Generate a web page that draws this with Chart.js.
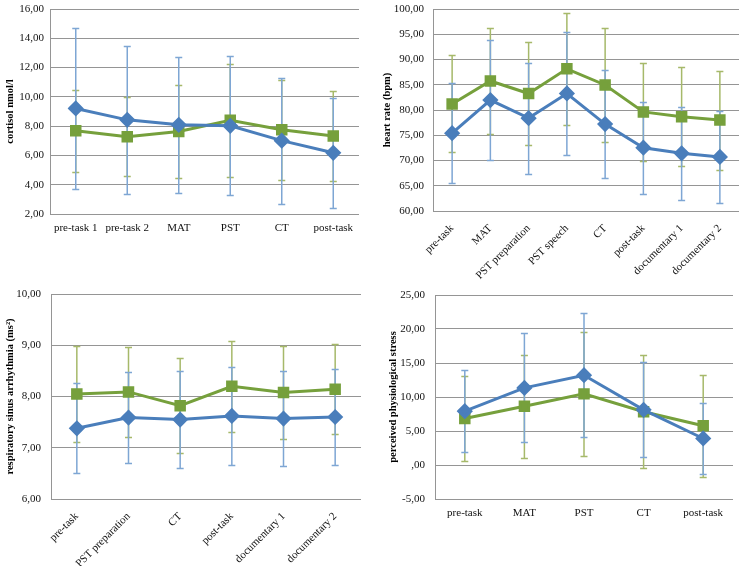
<!DOCTYPE html>
<html>
<head>
<meta charset="utf-8">
<script src="https://cdn.jsdelivr.net/npm/chart.js@4"></script>
<style>
  html, body { margin: 0; padding: 0; background: #fff; }
  body { width: 748px; height: 566px; position: relative; overflow: hidden; }
  .panel { position: absolute; width: 374px; height: 283px; }
</style>
</head>
<body>
<div class="panel" style="left:0;top:0"><canvas id="cortisol" width="374" height="283"></canvas></div>
<div class="panel" style="left:374px;top:0"><canvas id="heartRate" width="374" height="283"></canvas></div>
<div class="panel" style="left:0;top:283px"><canvas id="rsa" width="374" height="283"></canvas></div>
<div class="panel" style="left:374px;top:283px"><canvas id="stress" width="374" height="283"></canvas></div>

<script>
// --- Data (means and SD) ---
const cortCats    = ["pre-task 1", "pre-task 2", "MAT", "PST", "CT", "post-task"];
const cortBlue    = [9.21, 8.43, 8.09, 8.02, 7.01, 6.18];
const cortBlueSd  = [5.50, 5.05, 4.64, 4.75, 4.30, 3.75];
const cortGreen   = [7.69, 7.28, 7.64, 8.40, 7.75, 7.33];
const cortGreenSd = [2.80, 2.70, 3.17, 3.85, 3.40, 3.10];
const cortTicks   = ["2,00", "4,00", "6,00", "8,00", "10,00", "12,00", "14,00", "16,00"];

const hrCats    = ["pre-task", "MAT", "PST preparation", "PST speech", "CT", "post-task", "documentary 1", "documentary 2"];
const hrBlue    = [75.40, 81.97, 78.39, 83.27, 77.21, 72.53, 71.42, 70.70];
const hrBlueSd  = [9.95, 11.90, 11.00, 12.20, 10.70, 9.15, 9.20, 9.15];
const hrGreen   = [81.20, 85.74, 83.27, 88.15, 84.96, 79.62, 78.65, 78.00];
const hrGreenSd = [9.60, 10.40, 10.15, 11.10, 11.30, 9.70, 9.80, 9.80];
const hrTicks   = ["60,00", "65,00", "70,00", "75,00", "80,00", "85,00", "90,00", "95,00", "100,00"];

const rsaCats    = ["pre-task", "PST preparation", "CT", "post-task", "documentary 1", "documentary 2"];
const rsaBlue    = [7.38, 7.59, 7.55, 7.62, 7.57, 7.60];
const rsaBlueSd  = [0.88, 0.88, 0.95, 0.95, 0.93, 0.93];
const rsaGreen   = [8.05, 8.09, 7.82, 8.20, 8.08, 8.14];
const rsaGreenSd = [0.93, 0.88, 0.93, 0.89, 0.90, 0.88];
const rsaTicks   = ["6,00", "7,00", "8,00", "9,00", "10,00"];

const ppsCats    = ["pre-task", "MAT", "PST", "CT", "post-task"];
const ppsBlue    = [7.92, 11.34, 13.20, 8.11, 3.90];
const ppsBlueSd  = [6.05, 8.00, 9.08, 6.98, 5.20];
const ppsGreen   = [6.84, 8.65, 10.46, 7.84, 5.76];
const ppsGreenSd = [6.20, 7.60, 9.10, 8.30, 7.52];
const ppsTicks   = ["-5,00", ",00", "5,00", "10,00", "15,00", "20,00", "25,00"];

// --- Colours ---
const BLUE = "#4a7ebb";
const GREEN = "#76a03c";
const BLUE_ERR = "#7ea6d4";
const GREEN_ERR = "#a6b96a";
const GRID = "#959595";
const SERIF = "'Liberation Serif', 'Times New Roman', serif";

// --- Error bar plugin: draws mean ± SD with caps, using the y scale ---
const errorBars = {
  id: "errorBars",
  beforeDatasetsDraw(chart) {
    const { ctx } = chart;
    const y = chart.scales.y;
    [1, 0].forEach(i => {
      const ds = chart.data.datasets[i];
      const meta = chart.getDatasetMeta(i);
      ctx.save();
      ctx.strokeStyle = ds.errColor;
      ctx.lineWidth = 1.5;
      meta.data.forEach((pt, j) => {
        const top = Math.round(y.getPixelForValue(ds.data[j] + ds.sd[j])) + 0.5;
        const bot = Math.round(y.getPixelForValue(ds.data[j] - ds.sd[j])) + 0.5;
        const x = pt.x;
        ctx.beginPath();
        ctx.moveTo(x, top); ctx.lineTo(x, bot);
        ctx.moveTo(x - 3.5, top); ctx.lineTo(x + 3.5, top);
        ctx.moveTo(x - 3.5, bot); ctx.lineTo(x + 3.5, bot);
        ctx.stroke();
      });
      ctx.restore();
    });
  }
};

// --- Panel builder ---
function makePanel(id, cfg) {
  const ctx = document.getElementById(id).getContext("2d");
  return new Chart(ctx, {
    type: "line",
    data: {
      labels: cfg.cats,
      datasets: [
        {
          data: cfg.blue, sd: cfg.blueSd, errColor: BLUE_ERR,
          borderColor: BLUE, backgroundColor: BLUE, borderWidth: 3,
          pointStyle: "rectRot", pointRadius: 6, pointHoverRadius: 6,
          tension: 0,
        },
        {
          data: cfg.green, sd: cfg.greenSd, errColor: GREEN_ERR,
          borderColor: GREEN, backgroundColor: GREEN, borderWidth: 3,
          pointStyle: "rect", pointRadius: 6, pointHoverRadius: 6,
          tension: 0,
        },
      ],
    },
    options: {
      responsive: false,
      animation: false,
      layout: { padding: { top: cfg.padTop, right: cfg.padRight, left: 0, bottom: 0 } },
      plugins: { legend: { display: false }, tooltip: { enabled: false } },
      scales: {
        x: {
          offset: true,
          grid: { display: false, drawTicks: false },
          border: { display: false },
          ticks: {
            autoSkip: false,
            color: "#111",
            font: { family: SERIF, size: 11 },
            maxRotation: cfg.rotate, minRotation: cfg.rotate,
            padding: cfg.rotate ? 11 : 8,
          },
          afterFit: s => {
            s.height = cfg.xHeight;
            s.paddingLeft = 0; s.paddingRight = 0;
          },
        },
        y: {
          min: cfg.min, max: cfg.max,
          grid: { color: GRID, lineWidth: 1, drawTicks: false },
          border: { display: true, color: GRID, width: 1 },
          ticks: {
            stepSize: cfg.step,
            color: "#111",
            padding: cfg.tickPad,
            font: { family: SERIF, size: 11 },
            callback: (v, i) => cfg.ticks[i],
          },
          title: {
            display: true,
            text: cfg.title,
            color: "#000",
            font: { family: SERIF, size: 10.5, weight: "bold" },
            padding: { top: cfg.titlePad, bottom: 0 },
          },
          afterFit: s => {
            s.width = cfg.yWidth;
            s.paddingTop = 0; s.paddingBottom = 0;
          },
        },
      },
    },
    plugins: [errorBars],
  });
}

makePanel("cortisol", {
  cats: cortCats, blue: cortBlue, blueSd: cortBlueSd, green: cortGreen, greenSd: cortGreenSd,
  ticks: cortTicks, min: 2, max: 16, step: 2, title: "cortisol nmol/l",
  padTop: 5, padRight: 15, yWidth: 50, xHeight: 69, rotate: 0, tickPad: 6, titlePad: 4,
});

makePanel("heartRate", {
  cats: hrCats, blue: hrBlue, blueSd: hrBlueSd, green: hrGreen, greenSd: hrGreenSd,
  ticks: hrTicks, min: 60, max: 100, step: 5, title: "heart rate (bpm)",
  padTop: 6, padRight: 5, yWidth: 59, xHeight: 72, rotate: 45, tickPad: 9, titlePad: 7,
});

makePanel("rsa", {
  cats: rsaCats, blue: rsaBlue, blueSd: rsaBlueSd, green: rsaGreen, greenSd: rsaGreenSd,
  ticks: rsaTicks, min: 6, max: 10, step: 1, title: "respiratory sinus arrhythmia (ms²)",
  padTop: 11, padRight: 13, yWidth: 51, xHeight: 67, rotate: 45, tickPad: 10, titlePad: 4,
});

makePanel("stress", {
  cats: ppsCats, blue: ppsBlue, blueSd: ppsBlueSd, green: ppsGreen, greenSd: ppsGreenSd,
  ticks: ppsTicks, min: -5, max: 25, step: 5, title: "perceived physiological stress",
  padTop: 12, padRight: 15, yWidth: 61, xHeight: 67, rotate: 0, tickPad: 10, titlePad: 13,
});
</script>
</body>
</html>
